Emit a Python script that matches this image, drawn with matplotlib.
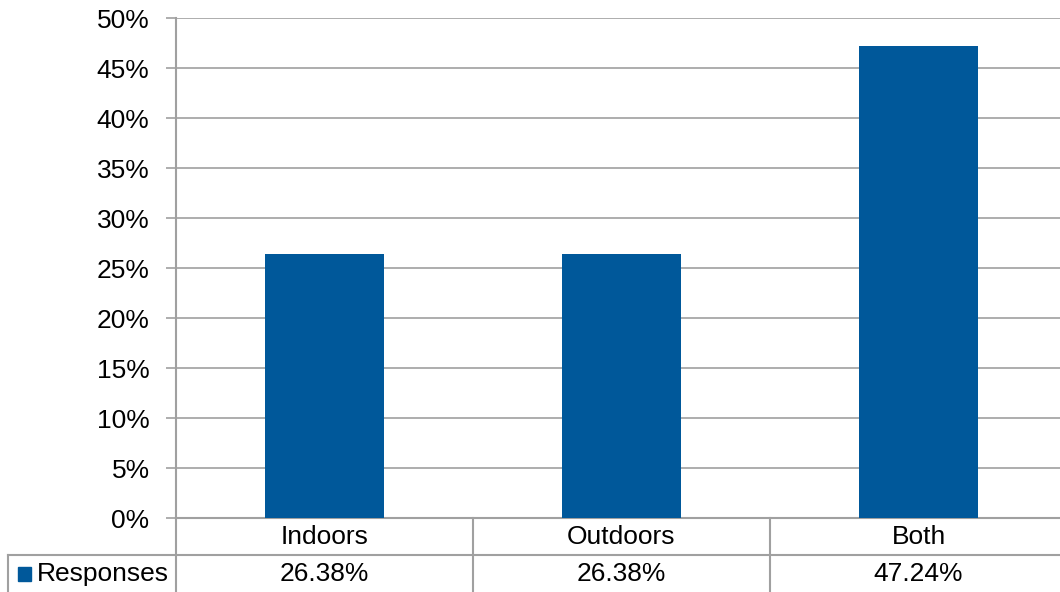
import matplotlib
matplotlib.use("Agg")
import matplotlib.pyplot as plt
from matplotlib.lines import Line2D
from matplotlib.patches import Rectangle
from matplotlib.transforms import blended_transform_factory
from matplotlib.ticker import MultipleLocator, FuncFormatter

plt.rcParams['font.family'] = ['Liberation Sans', 'DejaVu Sans']

categories = ["Indoors", "Outdoors", "Both"]
responses = [26.38, 26.38, 47.24]
series_name = "Responses"

bar_color = "#00589a"
line_color = "#a0a0a0"
fs = 19

W, H = 1060, 592
fig = plt.figure(figsize=(W / 100, H / 100), dpi=100)
ax = fig.add_axes([176 / W, 74 / H, 891 / W, 500 / H])

x = range(len(categories))
ax.bar(x, responses, width=0.4, color=bar_color, zorder=3)

ax.set_xlim(-0.5, len(categories) - 0.5)
ax.set_ylim(0, 50)
ax.yaxis.set_major_locator(MultipleLocator(5))
ax.yaxis.set_major_formatter(FuncFormatter(lambda v, p: f"{v:.0f}%"))
ax.grid(axis="y", color=line_color, linewidth=1.2, zorder=0)
ax.set_xticks([])
ax.tick_params(axis="y", length=7, width=1.2, color=line_color, pad=12, labelsize=fs)
for s in ["top", "right"]:
    ax.spines[s].set_visible(False)
for s in ["left", "bottom"]:
    ax.spines[s].set_color(line_color)
    ax.spines[s].set_linewidth(1.5)

# data table under the plot
tr = blended_transform_factory(ax.transData, ax.transAxes)
y_cat = -19 / 500
y_mid = -37 / 500
y_val = -56 / 500
y_bot = -80 / 500

for i, (c, v) in enumerate(zip(categories, responses)):
    ax.text(i, y_cat, c, transform=tr, ha="center", va="center", fontsize=fs)
    ax.text(i, y_val, f"{v:.2f}%", transform=tr, ha="center", va="center", fontsize=fs)

for i in range(len(categories) + 1):
    ax.add_line(Line2D([i - 0.5, i - 0.5], [0, y_bot], transform=tr, color=line_color,
                       linewidth=1.5, clip_on=False))

ftr = blended_transform_factory(fig.transFigure, ax.transAxes)
ax.add_line(Line2D([8 / W, 1.0], [y_mid, y_mid], transform=ftr, color=line_color,
                   linewidth=1.5, clip_on=False))
ax.add_line(Line2D([8 / W, 8 / W], [y_mid, y_bot], transform=ftr, color=line_color,
                   linewidth=1.5, clip_on=False))

fig.patches.append(Rectangle((18 / W, (592 - 581) / H), 13 / W, 14 / H,
                             transform=fig.transFigure, color=bar_color))
fig.text(37 / W, (592 - 574) / H, series_name, ha="left", va="center", fontsize=fs)

fig.savefig("out.png", dpi=100)
